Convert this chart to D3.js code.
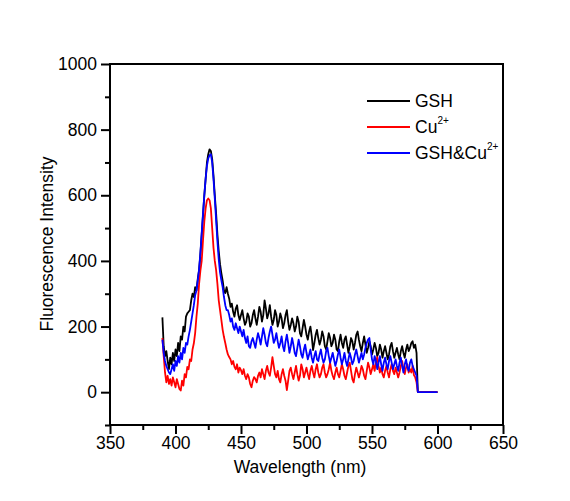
<!DOCTYPE html>
<html><head><meta charset="utf-8">
<script src="https://cdn.jsdelivr.net/npm/d3@7"></script>
<style>
html,body{margin:0;padding:0;background:#fff;}
text{font-family:"Liberation Sans",Arial,sans-serif;fill:#000;}
</style></head>
<body><svg id="c" width="570" height="501"></svg>
<script>
// wavelength grid: 390..584 nm in 1 nm steps, then drop to zero baseline until 600 nm
const startNm = 390;
const tailNm = [585, 600];
const tailVal = [0, 0];

const gsh = [
228,140,110,125,95,70,105,85,120,95,
130,110,150,125,170,160,200,185,230,240,
245,250,280,300,290,320,310,345,372,420,
480,540,600,650,700,725,740,735,710,660,
600,545,480,430,390,363,340,310,302,320,
300,285,260,270,245,230,255,265,235,220,
235,250,225,205,215,240,230,200,210,235,
250,225,205,230,260,245,215,235,280,255,
225,240,265,230,205,220,250,235,200,215,
240,225,195,210,235,250,215,190,205,225,
210,185,200,230,215,180,170,195,220,200,
175,160,185,200,170,128,150,175,190,165,
145,160,185,170,140,130,155,180,165,140,
150,175,160,130,125,155,175,150,135,160,
170,145,120,140,165,155,130,150,175,185,
160,140,125,150,170,145,120,135,155,140,
115,130,150,135,110,120,145,130,105,125,
140,120,100,115,140,150,125,105,120,135,
115,100,125,140,120,105,130,145,125,135,
150,155,135,145,120];

const cu = [
165,110,60,30,50,25,40,20,45,30,
15,40,25,10,5,35,20,55,45,77,
70,100,95,130,149,180,230,270,330,370,
400,463,520,560,585,590,585,560,500,440,
400,372,330,280,250,220,190,168,150,130,
115,107,100,85,95,77,70,85,60,75,
67,55,70,50,40,55,45,25,15,35,
46,40,30,50,60,45,70,55,40,65,
80,60,50,75,107,80,55,45,65,40,
30,55,70,50,35,6,35,65,75,55,
40,60,80,55,35,50,85,70,45,60,
75,55,40,65,80,60,45,70,85,60,
45,55,75,85,60,45,55,70,90,65,
50,40,60,75,55,45,65,85,70,50,
40,60,80,90,65,40,30,55,75,60,
45,60,80,70,50,40,65,90,75,55,
70,85,65,90,107,80,60,75,55,45,
65,80,60,45,70,85,65,55,75,60,
45,60,80,95,70,55,75,85,60,70,
60,80,52,45,30];

const gshCu = [
160,120,95,80,70,60,55,70,85,65,
95,80,110,90,120,100,135,120,150,145,
170,190,215,240,265,295,310,340,375,425,
485,545,600,650,690,712,722,725,700,650,
590,525,460,405,365,341,320,290,265,250,
250,235,215,225,200,190,210,195,180,200,
185,170,190,165,150,170,140,135,155,165,
150,135,160,180,165,145,170,195,175,150,
140,165,185,200,175,150,160,180,155,135,
150,170,140,125,155,175,150,120,140,165,
145,120,110,135,160,140,115,105,130,145,
120,100,115,130,105,90,110,125,100,95,
115,130,105,90,100,125,135,110,90,105,
120,100,80,95,115,130,105,85,100,120,
95,80,100,120,105,85,95,115,130,110,
90,105,120,100,115,135,150,160,165,130,
100,85,110,95,70,90,110,85,65,90,
105,85,70,95,110,90,70,85,100,80,
65,90,105,80,60,85,100,75,65,90,
100,80,70,60,50];

const seriesNames = ["GSH", "Cu", "GSH&Cu"];
const seriesColors = ["#000000", "#ff0000", "#0000ff"];
const xTicks = [350,400,450,500,550,600,650];
const yTicks = [0,200,400,600,800,1000];

const svg = d3.select("#c");
const L = 110, R = 503, T = 64, B = 425;
const x = d3.scaleLinear().domain([350, 650]).range([L, R]);
const y = d3.scaleLinear().domain([-100, 1000]).range([B, T]);

function toPts(arr){
  const pts = arr.map((v,i)=>[startNm+i, v]);
  tailNm.forEach((w,i)=>pts.push([w, tailVal[i]]));
  return pts;
}
const line = d3.line().x(d=>x(d[0])).y(d=>y(d[1]));
const data = [gsh, cu, gshCu];
data.forEach((arr, k)=>{
  svg.append("path").attr("d", line(toPts(arr)))
    .attr("fill","none").attr("stroke", seriesColors[k])
    .attr("stroke-width",1.8).attr("stroke-linejoin","round");
});

// frame
svg.append("rect").attr("x",L).attr("y",T).attr("width",R-L).attr("height",B-T)
  .attr("fill","none").attr("stroke","#000").attr("stroke-width",2);

// x axis
const xMinor = d3.range(375, 650, 50);
const xAx = svg.append("g").attr("transform",`translate(0,${B})`)
  .call(d3.axisBottom(x).tickValues(xTicks).tickSize(9).tickPadding(3).tickFormat(d3.format("d")));
xAx.select(".domain").remove();
xAx.selectAll("line").attr("stroke","#000").attr("stroke-width",2);
xAx.selectAll("text").attr("font-size",17.5).attr("fill","#000");
svg.append("g").attr("transform",`translate(0,${B})`)
  .call(d3.axisBottom(x).tickValues(xMinor).tickSize(5).tickFormat(""))
  .call(g=>{g.select(".domain").remove(); g.selectAll("line").attr("stroke","#000").attr("stroke-width",2);});

// y axis
const yMinor = d3.range(-100, 1000, 200);
const yAx = svg.append("g").attr("transform",`translate(${L},0)`)
  .call(d3.axisLeft(y).tickValues(yTicks).tickSize(9).tickPadding(4).tickFormat(d3.format("d")));
yAx.select(".domain").remove();
yAx.selectAll("line").attr("stroke","#000").attr("stroke-width",2);
yAx.selectAll("text").attr("font-size",17.5).attr("fill","#000");
svg.append("g").attr("transform",`translate(${L},0)`)
  .call(d3.axisLeft(y).tickValues(yMinor).tickSize(5).tickFormat(""))
  .call(g=>{g.select(".domain").remove(); g.selectAll("line").attr("stroke","#000").attr("stroke-width",2);});

// axis titles
svg.append("text").attr("x",300).attr("y",473).attr("text-anchor","middle")
  .attr("font-size",17.5).text("Wavelength (nm)");
svg.append("text").attr("transform","translate(53,244) rotate(-90)").attr("text-anchor","middle")
  .attr("font-size",17.5).text("Fluorescence Intensity");

// legend
const legY = [101, 127, 153];
const sup = ["", "2+", "2+"];
seriesNames.forEach((n,i)=>{
  svg.append("line").attr("x1",367).attr("x2",410).attr("y1",legY[i]).attr("y2",legY[i])
    .attr("stroke",seriesColors[i]).attr("stroke-width",2);
  const t = svg.append("text").attr("x",415).attr("y",legY[i]+6).attr("font-size",17.5);
  t.append("tspan").text(n);
  if (sup[i]) t.append("tspan").attr("font-size",10).attr("dy",-9).text(sup[i]);
});
</script></body></html>
